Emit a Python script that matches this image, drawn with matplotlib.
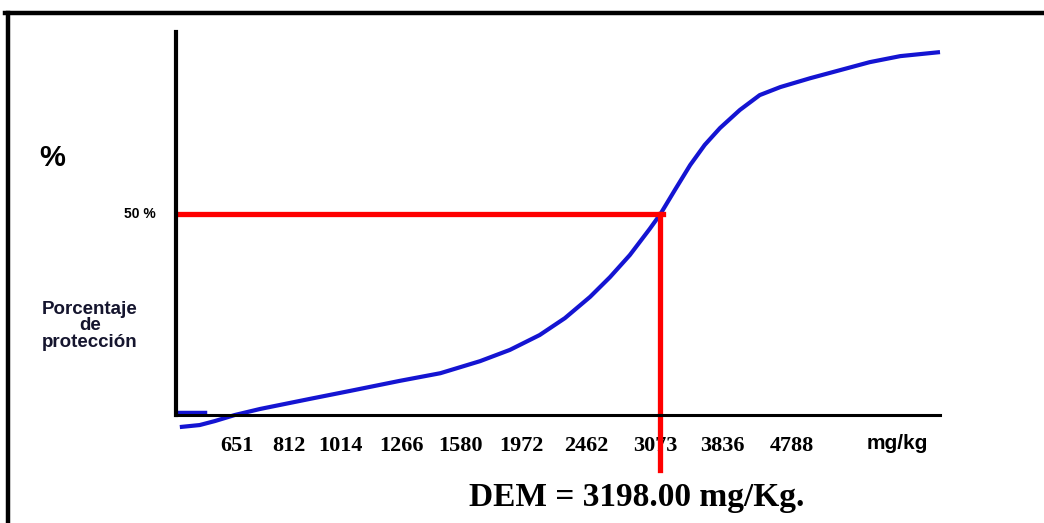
import matplotlib
matplotlib.use("Agg")
import matplotlib.pyplot as plt
from matplotlib.lines import Line2D

# dose classes shown under the x axis (mg/kg)
dose_labels = ["651", "812", "1014", "1266", "1580", "1972", "2462", "3073", "3836", "4788"]
# where each dose label sits along the hand-drawn axis (0-100 scale)
dose_pos = [8.0, 14.8, 21.5, 29.5, 37.2, 45.2, 53.7, 62.7, 71.5, 80.6]

# dose-response curve (x on the 0-100 axis scale, y in % protection)
curve_x = [0.5, 3.1, 5.1, 7.7, 11.0, 13.6, 17.5, 22.8, 29.3, 34.6, 39.8, 43.7, 47.6,
           50.9, 54.2, 56.8, 59.4, 62.0, 63.4, 65.3, 67.3, 69.2, 71.2, 73.8, 76.4,
           79.1, 83.0, 86.9, 90.8, 94.8, 100.0]
curve_y = [-3.0, -2.5, -1.5, 0.0, 1.5, 2.5, 4.0, 6.0, 8.5, 10.4, 13.4, 16.2, 19.9,
           24.1, 29.4, 34.3, 39.8, 46.3, 50.0, 56.0, 62.2, 67.2, 71.4, 75.9, 79.6,
           81.6, 83.8, 85.8, 87.8, 89.3, 90.3]
stub_x = [0.0, 3.8]
stub_y = [0.75, 0.75]

pct_50 = 50.0
dem_x = 63.4
dem_text = "DEM = 3198.00 mg/Kg."

fig = plt.figure(figsize=(10.44, 5.23), dpi=100)
fig.patch.set_facecolor("white")

# frame of the original figure (top and left edges)
fig.add_artist(Line2D([0.005, 1.0], [0.975, 0.975], color="black", lw=3.2))
fig.add_artist(Line2D([0.0075, 0.0075], [0.0, 0.975], color="black", lw=3.2))

ax = fig.add_axes([0.1686, 0.2065, 0.7318, 0.7323])
ax.set_xlim(0, 100)
ax.set_ylim(0, 95.3)
for side in ["top", "right"]:
    ax.spines[side].set_visible(False)
ax.spines["left"].set_linewidth(3.0)
ax.spines["bottom"].set_linewidth(2.2)
ax.set_yticks([])
ax.set_xticks(dose_pos, dose_labels)
ax.tick_params(axis="x", length=0, pad=15)
for lab in ax.get_xticklabels():
    lab.set_fontfamily("Liberation Serif")
    lab.set_fontweight("bold")
    lab.set_fontsize(16)

ax.plot(curve_x, curve_y, color="#1414d2", lw=3.0, clip_on=False, solid_capstyle="butt")
ax.plot(stub_x, stub_y, color="#1414d2", lw=2.5, clip_on=False)

# 50 % read-off lines
ax.plot([0.5, dem_x + 0.3], [pct_50, pct_50], color="#ff0000", lw=3.8, clip_on=False)
ax.plot([dem_x, dem_x], [pct_50, -13.7], color="#ff0000", lw=3.8, clip_on=False)

ax.text(94.4, -7.0, "mg/kg", ha="center", va="center", fontsize=15,
        fontweight="bold", family="Liberation Sans", clip_on=False)

fig.text(0.050, 0.698, "%", ha="center", va="center", fontsize=21,
         fontweight="bold", family="Liberation Sans")
fig.text(0.149, 0.591, "50 %", ha="right", va="center", fontsize=10,
         fontweight="bold", family="Liberation Sans")
fig.text(0.086, 0.377, "Porcentaje\nde\nprotección", ha="center", va="center",
         fontsize=13.5, fontweight="bold", family="Liberation Sans",
         color="#15152e", linespacing=0.95)
fig.text(0.610, 0.048, dem_text, ha="center", va="center", fontsize=24,
         fontweight="bold", family="Liberation Serif")

fig.savefig("out.png", dpi=100, facecolor="white")
